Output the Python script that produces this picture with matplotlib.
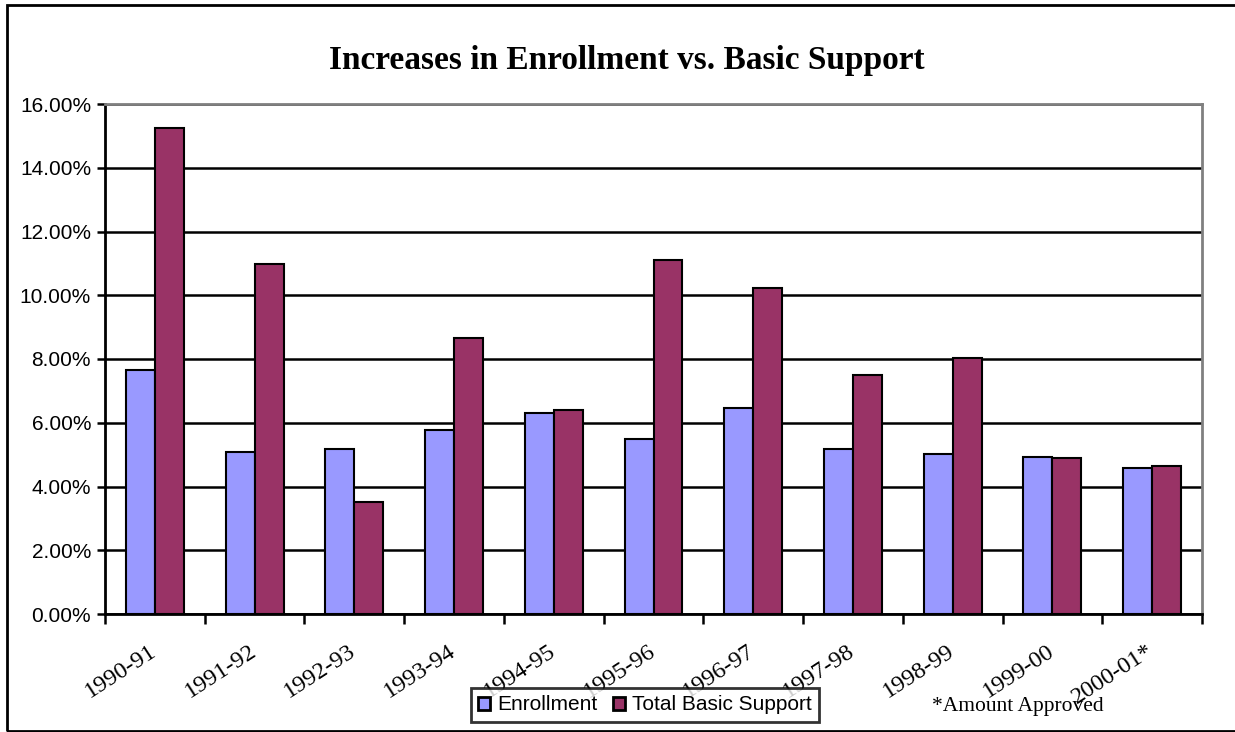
import matplotlib
matplotlib.use('Agg')
import matplotlib.pyplot as plt
from matplotlib.patches import Rectangle
from matplotlib.ticker import PercentFormatter
from matplotlib.transforms import ScaledTranslation
import numpy as np

# 数据
years = ['1990-91', '1991-92', '1992-93', '1993-94', '1994-95', '1995-96',
         '1996-97', '1997-98', '1998-99', '1999-00', '2000-01*']
enrollment = [7.64, 5.08, 5.19, 5.76, 6.32, 5.50, 6.45, 5.19, 5.02, 4.94, 4.57]
basic_support = [15.24, 10.97, 3.51, 8.65, 6.39, 11.10, 10.22, 7.51, 8.03, 4.89, 4.64]
yticks = [0, 2, 4, 6, 8, 10, 12, 14, 16]

serif = ['Liberation Serif', 'DejaVu Serif']
sans = ['Liberation Sans', 'DejaVu Sans']
colors = {'enroll': '#9999FF', 'support': '#993366'}

W, H = 1235, 732
fig = plt.figure(figsize=(W / 100, H / 100), dpi=100)
fig.patch.set_facecolor('white')

# 外框
fig.add_artist(Rectangle((7 / W, 1 - 731 / H), (1240 - 7) / W, (731 - 5) / H,
                         transform=fig.transFigure, fill=False,
                         edgecolor='black', linewidth=2))

# 绘图区
x0, x1, y0, y1 = 105, 1202, 104, 614
ax = fig.add_axes([x0 / W, 1 - y1 / H, (x1 - x0) / W, (y1 - y0) / H])

n = len(years)
x = np.arange(n)
bw = 0.29
ax.bar(x - bw / 2, enrollment, bw, color=colors['enroll'], edgecolor='black',
       linewidth=1.5, label='Enrollment', zorder=3)
ax.bar(x + bw / 2, basic_support, bw, color=colors['support'], edgecolor='black',
       linewidth=1.5, label='Total Basic Support', zorder=3)

ax.set_xlim(-0.5, n - 0.5)
ax.set_ylim(0, 16)
ax.set_yticks(yticks)
ax.yaxis.set_major_formatter(PercentFormatter(decimals=2))
ax.yaxis.grid(True, color='black', linewidth=1.8, zorder=0)
ax.set_axisbelow(True)

for lab in ax.get_yticklabels():
    lab.set_family(sans)
    lab.set_fontsize(15)
ax.tick_params(axis='y', direction='out', length=6, width=1.8, pad=4)

# 类别边界刻度
ax.set_xticks(np.arange(n + 1) - 0.5)
ax.set_xticklabels([])
ax.tick_params(axis='x', direction='out', length=7, width=1.8)
ax.set_xticks(x, minor=True)
ax.set_xticklabels(years, minor=True, rotation=33, ha='right',
                   rotation_mode='anchor', family=serif, fontsize=17.5)
ax.tick_params(axis='x', which='minor', length=0, pad=19)
shift = ScaledTranslation(-6 / 100, 0, fig.dpi_scale_trans)
for lab in ax.get_xticklabels(minor=True):
    lab.set_transform(lab.get_transform() + shift)

for side in ['left', 'bottom']:
    ax.spines[side].set_color('black')
    ax.spines[side].set_linewidth(2)
for side in ['top', 'right']:
    ax.spines[side].set_color('#808080')
    ax.spines[side].set_linewidth(2)

# 标题
fig.text(627 / W, 1 - 60 / H, 'Increases in Enrollment vs. Basic Support',
         ha='center', va='center', family=serif, fontsize=24, fontweight='bold')

# 图例
leg = fig.legend(loc='center', bbox_to_anchor=(645 / W, 1 - 705 / H), ncol=2,
                 prop={'family': sans, 'size': 15}, frameon=True, fancybox=False,
                 handlelength=0.6, handleheight=0.6, handletextpad=0.35,
                 columnspacing=0.7, borderpad=0.35, borderaxespad=0)
leg.get_frame().set_edgecolor('black')
leg.get_frame().set_linewidth(2)
for h in leg.legend_handles:
    h.set_linewidth(2)

fig.text(1018 / W, 1 - 707 / H, '*Amount Approved', ha='center', va='center',
         family=serif, fontsize=15.5)

plt.savefig('out.png', dpi=100, facecolor='white')
